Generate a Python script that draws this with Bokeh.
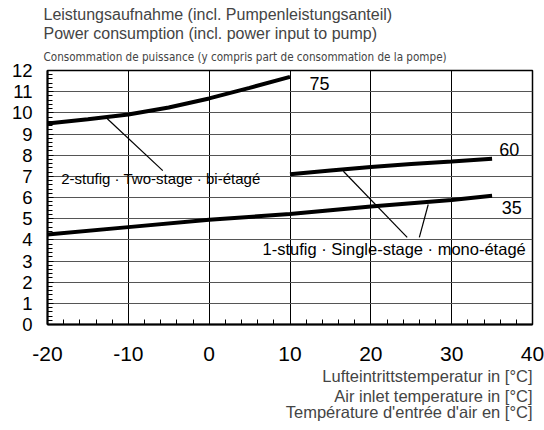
from bokeh.plotting import figure
from bokeh.models import Title, FixedTicker, Range1d
from bokeh.core.properties import value
from bokeh.embed import file_html
from bokeh.resources import INLINE

# Data (air inlet temperature [°C] vs power consumption [kW])
x75 = [-20, -15, -10, -5, 0, 5, 10]
y75 = [9.5, 9.7, 9.92, 10.25, 10.68, 11.18, 11.7]
x60 = [10, 15, 20, 25, 30, 35]
y60 = [7.1, 7.28, 7.44, 7.58, 7.7, 7.83]
x35 = [-20, -10, 0, 10, 20, 30, 35]
y35 = [4.25, 4.6, 4.95, 5.22, 5.57, 5.88, 6.08]

curve_labels = ["75", "60", "35"]
curve_label_x = [12.4, 35.9, 36.2]
curve_label_y = [11.4, 8.27, 5.54]

two_stage_text = "2-stufig · Two-stage · bi-étagé"
two_stage_pos = (-18.3, 6.9)
single_stage_text = "1-stufig · Single-stage · mono-étagé"
single_stage_pos = (6.6, 3.59)

leader_xs = [[-12.6, -5.74], [16.6, 24.5], [27.1, 26.0]]
leader_ys = [[9.72, 7.27], [7.24, 4.12], [5.67, 4.12]]

x_ticks = [-20, -10, 0, 10, 20, 30, 40]
x_tick_labels = ["-20", "-10", "0", "10", "20", "30", "40"]
y_ticks = list(range(0, 13))

title_lines = ["Leistungsaufnahme (incl. Pumpenleistungsanteil)",
               "Power consumption (incl. power input to pump)",
               "Consommation de puissance (y compris part de consommation de la pompe)"]
xlabel_lines = ["Lufteintrittstemperatur in [°C]",
                "Air inlet temperature in [°C]",
                "Température d'entrée d'air en [°C]"]

FONT = "Liberation Sans"

p = figure(width=544, height=430, output_backend="svg", toolbar_location=None,
           x_range=Range1d(-20, 40), y_range=Range1d(0, 12),
           min_border_left=47, min_border_right=12, min_border_top=70, min_border_bottom=106)
p.background_fill_color = "white"
p.outline_line_color = "black"
p.outline_line_width = 1.5

# grids
p.xgrid.ticker = FixedTicker(ticks=x_ticks)
p.ygrid.ticker = FixedTicker(ticks=y_ticks)
p.xgrid.grid_line_color = "black"
p.xgrid.grid_line_width = 1
p.ygrid.grid_line_color = "#555555"
p.ygrid.grid_line_width = 1

# axes
for ax in (p.xaxis[0], p.yaxis[0]):
    ax.axis_line_width = 2
    ax.axis_line_color = "black"
    ax.major_tick_in = 6
    ax.major_tick_out = 0
    ax.minor_tick_in = 5
    ax.minor_tick_out = 0
    ax.major_tick_line_color = "black"
    ax.minor_tick_line_color = "black"
    ax.major_label_text_font = FONT
    ax.major_label_text_color = "black"

p.xaxis[0].ticker = FixedTicker(ticks=x_ticks, minor_ticks=list(range(-20, 41, 2)))
p.xaxis[0].major_label_overrides = {t: s for t, s in zip(x_ticks, x_tick_labels)}
p.yaxis[0].ticker = FixedTicker(ticks=y_ticks, minor_ticks=[i / 5 for i in range(0, 61)])
p.xaxis[0].major_label_text_font_size = "21px"
p.yaxis[0].major_label_text_font_size = "18.5px"
p.xaxis[0].major_label_standoff = 22
p.yaxis[0].major_label_standoff = 15

# curves
p.line(x75, y75, line_color="black", line_width=4)
p.line(x60, y60, line_color="black", line_width=4)
p.line(x35, y35, line_color="black", line_width=4)

# leader lines
p.multi_line(leader_xs, leader_ys, line_color="black", line_width=1.2)

# labels
p.text(curve_label_x, curve_label_y, text=curve_labels, text_font=value(FONT),
       text_font_size="18px", text_baseline="middle", text_align="left", text_color="black")
p.text([two_stage_pos[0]], [two_stage_pos[1]], text=[two_stage_text], text_font=value(FONT),
       text_font_size="15px", text_baseline="middle", text_align="left", text_color="black")
p.text([single_stage_pos[0]], [single_stage_pos[1]], text=[single_stage_text], text_font=value(FONT),
       text_font_size="16.5px", text_baseline="middle", text_align="left", text_color="black")

# titles above (first added = nearest the plot)
p.add_layout(Title(text=title_lines[2], text_font="DejaVu Sans Condensed, Liberation Sans", text_font_size="11.6px",
                   text_font_style="normal", align="left", offset=-4, standoff=13), "above")
p.add_layout(Title(text=title_lines[1], text_font=FONT, text_font_size="16px",
                   text_font_style="normal", align="left", offset=-4, standoff=0), "above")
p.add_layout(Title(text=title_lines[0], text_font=FONT, text_font_size="16px",
                   text_font_style="normal", align="left", offset=-4, standoff=0), "above")

# x-axis title lines below, each right-aligned to the plot's right edge
for i, line in enumerate(xlabel_lines):
    p.add_layout(Title(text=line, text_font=FONT, text_font_size="16.5px",
                       text_font_style="normal", align="right", standoff=3 if i == 0 else -4), "below")

open("out.html", "w").write(file_html(p, INLINE))
